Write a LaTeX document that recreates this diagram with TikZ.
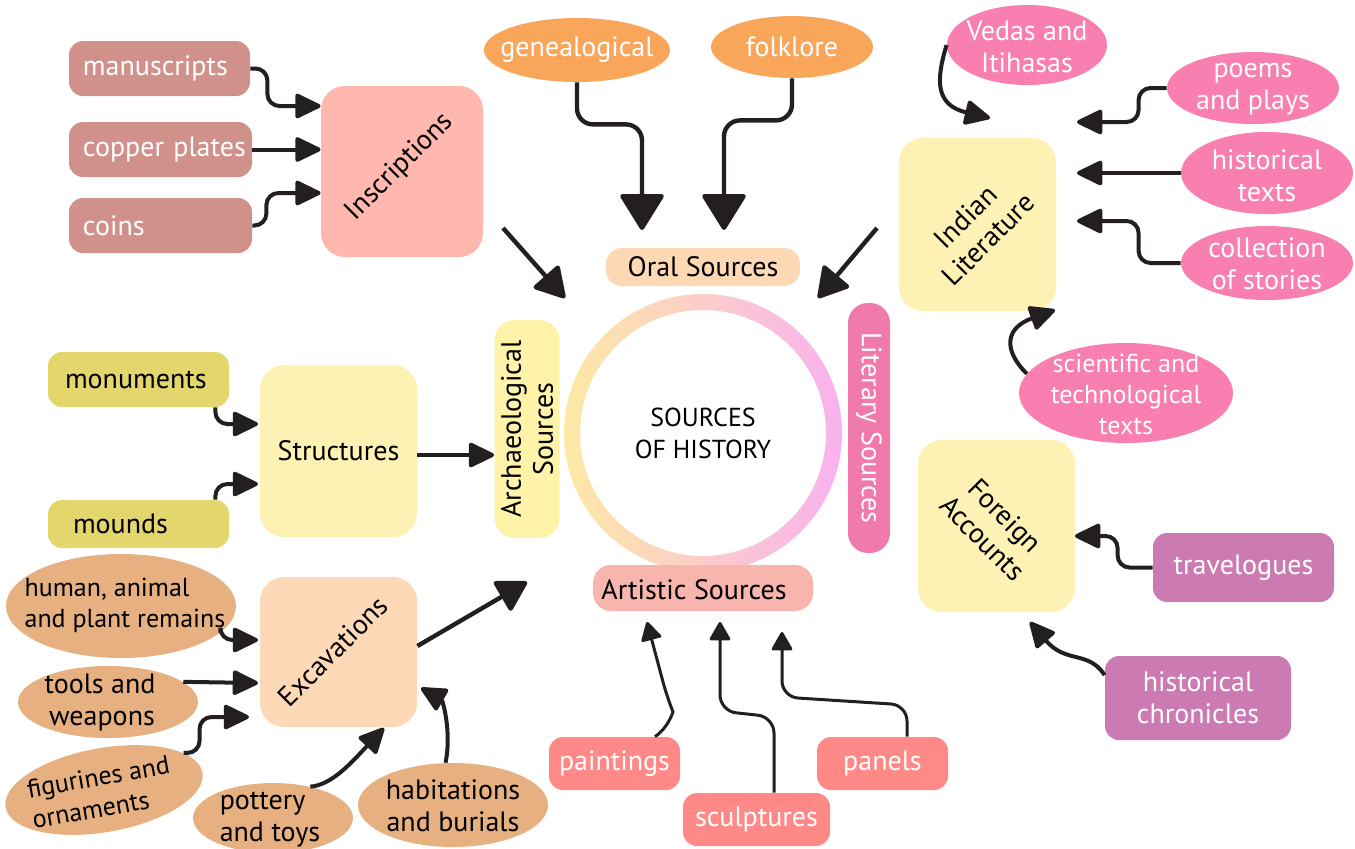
\documentclass[tikz,border=0pt]{standalone}
\usepackage{fontspec}
\setmainfont{PT Sans}
\usetikzlibrary{arrows.meta,shapes.geometric,calc}
\definecolor{ink}{HTML}{231F20}
\definecolor{rose}{HTML}{D0918A}
\definecolor{inscr}{HTML}{FFB7AE}
\definecolor{orangec}{HTML}{F9A65A}
\definecolor{oralc}{HTML}{FDD8B4}
\definecolor{pinkc}{HTML}{F87FAF}
\definecolor{yel}{HTML}{FEF1B4}
\definecolor{archc}{HTML}{FEF3A9}
\definecolor{litc}{HTML}{F07AAB}
\definecolor{purp}{HTML}{CB7BB1}
\definecolor{olive}{HTML}{E2D66D}
\definecolor{excc}{HTML}{FED9B8}
\definecolor{tan}{HTML}{E6B081}
\definecolor{coral}{HTML}{FF8986}
\definecolor{artc}{HTML}{F7B5AE}
\definecolor{ringY}{HTML}{FDE9A4}
\definecolor{ringM}{HTML}{FFD3D2}
\definecolor{ringP}{HTML}{F9B1EF}
\newcommand\fs{\fontsize{14}{16}\selectfont}
\newcommand\fss{\fontsize{13}{15.5}\selectfont}
\tikzset{
  rbox/.style={draw=none, rounded corners=7pt, inner sep=0pt, font=\fs, align=center},
  lbox/.style={rbox, align=left, inner ysep=0pt},
  ell/.style={ellipse, draw=none, inner sep=0pt},
  bigbox/.style={rbox, rounded corners=12pt},
  lab/.style={font=\fs, align=center, inner sep=0pt},
  arr/.style={line width=2pt, draw=ink, rounded corners=6pt, -{Triangle[round, length=14pt, width=13pt]}},
  bigarr/.style={line width=2.2pt, draw=ink, rounded corners=8pt, -{Triangle[round, length=19pt, width=23pt]}},
  diagarr/.style={line width=2.2pt, draw=ink, -{Triangle[round, length=16pt, width=18pt]}},
  smallarr/.style={line width=1.5pt, draw=ink, rounded corners=8pt, -{Triangle[round, length=10pt, width=11pt]}}
}
\begin{document}
\begin{tikzpicture}[x=0.5pt, y=-0.5pt]
\useasboundingbox (0,0) rectangle (1355,848);
\fill[white] (0,0) rectangle (1355,848);

% ---------- centre ring ----------
\path[left color=ringY, middle color=ringM, right color=ringP, even odd rule]
  (703,433) circle[radius=69.5pt] (703,433) circle[radius=61.5pt];
\node[font=\fontsize{13}{16}\selectfont, align=center, inner sep=0pt] (hist) at (703,433) {SOURCES\\OF HISTORY};

% ---------- source labels ----------
\node[rbox, fill=oralc, minimum width=97pt, minimum height=19pt, rounded corners=8pt] (oral) at (703,267) {Oral Sources};
\node[rbox, fill=archc, minimum width=32.5pt, minimum height=109pt, rounded corners=10pt] (arch) at (527,429) {};
\node[lab, rotate=90] (archt) at (527,429) {Archaeological\\Sources};
\node[rbox, fill=litc, minimum width=21pt, minimum height=125pt, rounded corners=10pt] (lit) at (869,428) {};
\node[lab, rotate=-90, text=white] (litt) at (869,428) {Literary Sources};
\node[rbox, fill=artc, minimum width=110pt, minimum height=23pt, rounded corners=9pt] (art) at (703,588) {};
\node[lab] (artt) at (694,590) {Artistic Sources};

% ---------- Inscriptions ----------
\node[lbox, fill=rose, text=white, minimum height=27.5pt, text width=76.5pt, inner xsep=7pt] (manu) at (159.5,68.5) {\mbox{manuscripts}};
\node[lbox, fill=rose, text=white, minimum height=27.5pt, text width=77.5pt, inner xsep=7pt] (copper) at (160.5,149.5) {\mbox{copper plates}};
\node[lbox, fill=rose, text=white, minimum height=27.5pt, text width=77.5pt, inner xsep=7pt] (coins) at (160.5,225.5) {coins};
\node[bigbox, fill=inscr, minimum width=81pt, minimum height=85.5pt] (insc) at (402,171.5) {};
\node[lab, rotate=45] (insct) at (400,167) {Inscriptions};
\draw[arr] (manu.east) -- ++(17,0) |- (insc.west |- 0,106);
\draw[arr] (copper.east) -- (insc.west |- copper.east);
\draw[arr] (coins.east) -- ++(14,0) |- (insc.west |- 0,193);
\coordinate (dA1) at (503,228);
\coordinate (dA2) at (565,298);
\draw[diagarr] (dA1) -- (dA2);

% ---------- Oral ----------
\node[ell, fill=orangec, minimum width=93pt, minimum height=32pt] (gene) at (577,50) {};
\node[lab, text=white] (genet) at (577,50) {genealogical};
\node[ell, fill=orangec, minimum width=81pt, minimum height=31pt] (folk) at (792,47) {};
\node[lab, text=white] (folkt) at (792,47) {folklore};
\coordinate (oralTL) at (642,230);
\coordinate (oralTR) at (724,230);
\draw[bigarr] (gene.south) -- ++(0,42) -| (oralTL);
\draw[bigarr] (folk.south) -- ++(0,42) -| (oralTR);

% ---------- Indian Literature ----------
\node[bigbox, fill=yel, minimum width=78.5pt, minimum height=86.5pt] (ind) at (977.5,224.5) {};
\node[lab, rotate=45] (indt) at (977,228) {Indian\\Literature};
\node[ell, fill=pinkc, minimum width=80pt, minimum height=40pt] (veda) at (1027,45) {};
\node[lab, text=white] (vedat) at (1027,47) {Vedas and\\Itihasas};
\node[ell, fill=pinkc, minimum width=86pt, minimum height=36pt] (poem) at (1253,88) {};
\node[lab, text=white] (poemt) at (1253,89) {poems\\and plays};
\node[ell, fill=pinkc, minimum width=86pt, minimum height=41pt] (htext) at (1267,173) {};
\node[lab, text=white] (htextt) at (1267,176) {historical\\texts};
\node[ell, fill=pinkc, minimum width=86pt, minimum height=37pt] (coll) at (1267,263) {};
\node[lab, text=white] (collt) at (1267,264) {collection\\of stories};
\node[ell, fill=pinkc, minimum width=107pt, minimum height=50pt] (sci) at (1126,393) {};
\node[lab, text=white, font=\fss] (scit) at (1126,394) {scientific and\\technological\\texts};
\coordinate (tVeda) at (990,118);
\coordinate (tPoem) at (1077,122);
\coordinate (tHist) at (1077,173);
\coordinate (tColl) at (1077,221);
\coordinate (tSci) at (1055,310);
\draw[arr] (veda.west) .. controls (936,80) and (935,105) .. (tVeda);
\draw[arr] (poem.west) -- ++(-28,0) |- (tPoem);
\draw[arr] (htext.west) -- (tHist);
\draw[arr] (coll.west) -- ++(-42,0) |- (tColl);
\draw[arr] (sci.169) .. controls (1003,350) and (1005,328) .. (tSci);
\coordinate (dB1) at (877,228);
\coordinate (dB2) at (818,298);
\draw[diagarr] (dB1) -- (dB2);

% ---------- Foreign Accounts ----------
\node[bigbox, fill=yel, minimum width=78.5pt, minimum height=86pt] (fa) at (996.5,526) {};
\node[lab, rotate=-45] (fat) at (994,527) {Foreign\\Accounts};
\node[rbox, fill=purp, text=white, minimum width=90.5pt, minimum height=34.5pt] (trav) at (1243.5,567.5) {travelogues};
\node[rbox, fill=purp, text=white, minimum width=93pt, minimum height=42pt] (chron) at (1198,698) {historical\\chronicles};
\coordinate (tTrav) at (1075,536);
\coordinate (tChron) at (1030,622);
\draw[arr] (trav.west) -- ++(-35,0) |- (tTrav);
\draw[arr] (chron.west |- 0,675) .. controls (1088,650) and (1066,664) .. (tChron);

% ---------- Structures ----------
\node[lbox, fill=olive, minimum height=27.5pt, text width=73.5pt, inner xsep=8.5pt] (monu) at (138.5,379.5) {monuments};
\node[lbox, fill=olive, minimum height=24pt, text width=65.5pt, inner xsep=12.5pt] (mounds) at (138.5,524) {mounds};
\node[bigbox, fill=yel, minimum width=78.5pt, minimum height=86pt] (struct) at (338.5,451) {Structures};
\coordinate (tMonu) at (258,424);
\coordinate (tMound) at (258,484);
\draw[arr] ([xshift=-7pt]monu.south east) |- (tMonu);
\draw[arr] ([xshift=-7pt]mounds.north east) |- (tMound);
\draw[arr] (struct.east |- 0,455) -- (arch.west |- 0,455);

% ---------- Excavations ----------
\node[bigbox, fill=excc, minimum width=78.5pt, minimum height=75pt] (exc) at (338.5,652) {};
\node[lab, rotate=45] (exct) at (333,651) {Excavations};
\node[ell, fill=tan, minimum width=115pt, minimum height=52pt] (human) at (121,606) {};
\node[lab, align=left, font=\fss] (humant) at (125,605) {human, animal\\and plant remains};
\node[ell, fill=tan, minimum width=90pt, minimum height=36pt] (tools) at (108,702) {};
\node[lab, align=left] (toolst) at (100,702) {tools and\\\,weapons};
\node[ell, fill=tan, minimum width=100pt, minimum height=42pt, rotate=10] (figur) at (104,790) {};
\node[lab, align=left, rotate=10, font=\fss] (figurt) at (101,792) {figurines and\\ornaments};
\node[ell, fill=tan, minimum width=80pt, minimum height=35pt] (pottery) at (273,818) {};
\node[lab, align=left] (potteryt) at (270,820) {pottery\\and toys};
\node[ell, fill=tan, minimum width=95pt, minimum height=42pt] (habit) at (453,805) {};
\node[lab] (habitt) at (453,806) {habitations\\and burials};
\coordinate (tHuman) at (258,640);
\coordinate (tTools) at (258,683);
\coordinate (tFig) at (249,717);
\coordinate (tPot) at (384,728);
\coordinate (tHab) at (421,688);
\coordinate (tExc) at (527,582);
\draw[arr] (human.-15) |- (tHuman);
\draw[arr] (tools.15) -- (tTools);
\draw[arr] (figur.15) -- ++(16,0) |- (tFig);
\draw[arr] (pottery.40) .. controls (332,785) and (352,762) .. (tPot);
\draw[arr] (habit.100) .. controls (452,730) and (442,700) .. (tHab);
\draw[diagarr] (exc.east |- 0,646) -- (tExc);

% ---------- Artistic ----------
\node[rbox, fill=coral, text=white, minimum width=65.5pt, minimum height=26.5pt] (paint) at (614.5,763.5) {paintings};
\node[rbox, fill=coral, text=white, minimum width=73.5pt, minimum height=26.5pt] (sculpt) at (756.5,819.5) {sculptures};
\node[rbox, fill=coral, text=white, minimum width=65.5pt, minimum height=26.5pt] (panel) at (882.5,763.5) {panels};
\coordinate (tPaint) at (647,622);
\coordinate (tSculpt) at (720,622);
\coordinate (tPanel) at (782,632);
\draw[smallarr] (paint.north -| 655,0) .. controls (668,728) and (673,712) .. (667,697) -- (tPaint);
\draw[smallarr] (sculpt.north -| 774,0) -- (774,717) -- (720,711) -- (tSculpt);
\draw[smallarr] (panel.north -| 907,0) -- (907,705) -- (782,697) -- (tPanel);
\end{tikzpicture}
\end{document}
